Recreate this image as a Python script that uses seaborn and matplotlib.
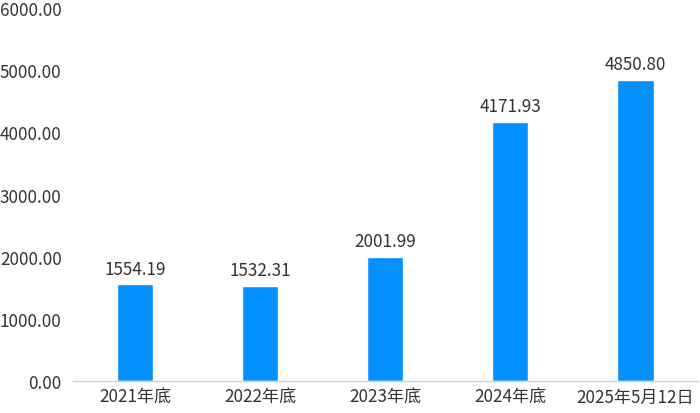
import matplotlib.pyplot as plt
import numpy as np
import seaborn as sns
import pandas as pd

categories = ['2021年底', '2022年底', '2023年底', '2024年底', '2025年5月12日']
values = [1554.19, 1532.31, 2001.99, 4171.93, 4850.80]
y_ticks = [0, 1000, 2000, 3000, 4000, 5000, 6000]

sns.set_theme(style="white")
plt.rcParams['font.family'] = ['Noto Sans CJK SC', 'DejaVu Sans']

df = pd.DataFrame({'cat': categories, 'val': values})

fig = plt.figure(figsize=(7, 4.14), dpi=100)
ax = fig.add_axes([0.104, 0.077, 0.893, 0.901])

sns.barplot(data=df, x='cat', y='val', color='#0591FF', saturation=1, width=0.29, ax=ax)

for i, v in enumerate(values):
    ax.text(i, v + 110, f'{v:.2f}', ha='center', va='bottom', fontsize=12.3, color='#333333')

ax.set_ylim(0, 6000)
ax.set_xlim(-0.5, len(categories) - 0.5)
ax.set_yticks(y_ticks)
ax.set_yticklabels([f'{t:.2f}' for t in y_ticks])
ax.set_xlabel('')
ax.set_ylabel('')
ax.tick_params(axis='both', labelsize=12.3, colors='#333333', length=0)
ax.tick_params(axis='y', pad=8)
ax.tick_params(axis='x', pad=5)

sns.despine(ax=ax, left=True, top=True, right=True)
ax.spines['bottom'].set_color('#D0D0D0')
ax.spines['bottom'].set_linewidth(1)

plt.savefig('out.png', dpi=100)
